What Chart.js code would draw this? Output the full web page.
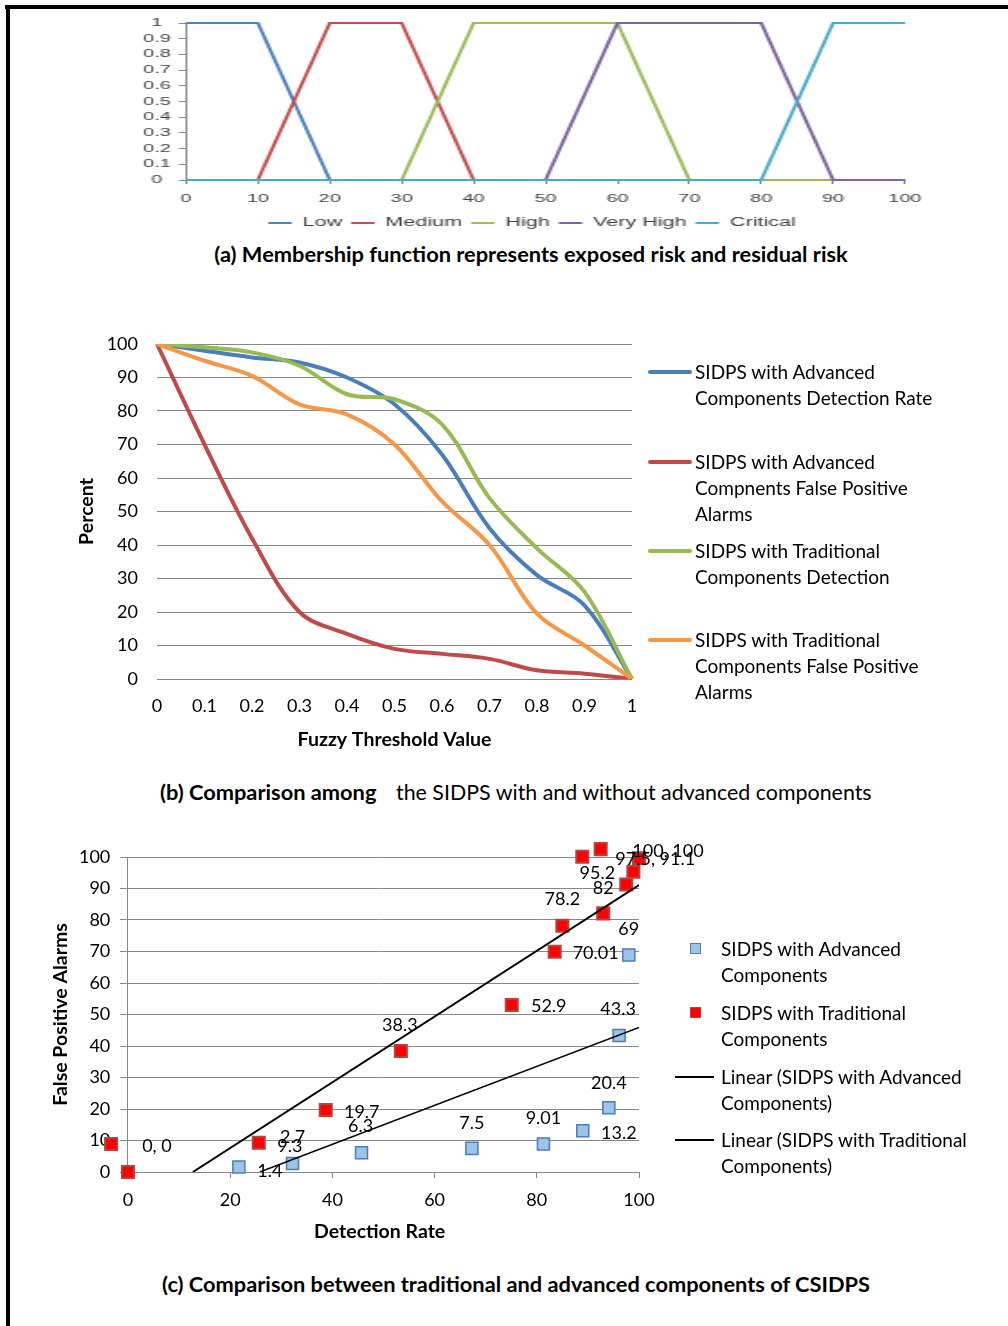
<!DOCTYPE html>
<html>
<head>
<meta charset="utf-8">
<script src="https://cdn.jsdelivr.net/npm/chart.js@4.4.0/dist/chart.umd.min.js"></script>
<style>
  html, body { margin: 0; padding: 0; background: #fff; }
  #page { position: relative; width: 1008px; height: 1326px; overflow: hidden; font-family: Lato, "Open Sans", sans-serif; color: #000; }
  .frame { position: absolute; background: #000; }
  .caption { position: absolute; font-weight: bold; font-size: 21.8px; line-height: 26px; white-space: pre; }
  .caption.centered { width: 1008px; text-align: center; }
  .caption.normal { font-weight: normal; font-size: 21.4px; }
  .legend-item { position: absolute; left: 0; font-size: 19px; line-height: 26px; white-space: pre; }
  .legend-item .mark { position: absolute; }
  .legend-item .txt { position: absolute; top: 0; }
</style>
</head>
<body>
<div id="page">
  <div class="frame" style="left:5px;top:5px;width:1003px;height:4px"></div>
  <div class="frame" style="left:6px;top:5px;width:4px;height:1321px"></div>

  <canvas id="chartA" width="560" height="240" style="position:absolute;left:0;top:0;width:1008px;height:240px"></canvas>
  <div class="caption centered" style="top:241px;left:27px">(a) Membership function represents exposed risk and residual risk</div>

  <canvas id="chartB" width="1008" height="460" style="position:absolute;left:0;top:300px;width:1008px;height:460px"></canvas>
  <div id="legendB"></div>
  <div class="caption" style="top:779px;left:160px">(b) Comparison among</div>
  <div class="caption normal" style="top:779px;left:396px">the SIDPS with and without advanced components</div>

  <canvas id="chartC" width="1008" height="440" style="position:absolute;left:0;top:820px;width:1008px;height:440px"></canvas>
  <div id="legendC"></div>
  <div class="caption centered" style="top:1271px;left:12px">(c) Comparison between traditional and advanced components of CSIDPS</div>
</div>

<script>
// (a) membership functions
const riskLevels = ['0', '10', '20', '30', '40', '50', '60', '70', '80', '90', '100'];
const lowRisk      = [1, 1, 0, 0, 0, 0, 0, 0, 0, 0, 0];
const mediumRisk   = [0, 0, 1, 1, 0, 0, 0, 0, 0, 0, 0];
const highRisk     = [0, 0, 0, 0, 1, 1, 1, 0, 0, 0, 0];
const veryHighRisk = [0, 0, 0, 0, 0, 0, 1, 1, 1, 0, 0];
const criticalRisk = [0, 0, 0, 0, 0, 0, 0, 0, 0, 1, 1];
const riskNames = ['Low', 'Medium', 'High', 'Very High', 'Critical'];

// (b) detection / false positive vs fuzzy threshold
const thresholdLabels = ['0', '0.1', '0.2', '0.3', '0.4', '0.5', '0.6', '0.7', '0.8', '0.9', '1'];
const advDetection = [100, 98, 96, 94.5, 90, 82, 67, 45, 31, 22, 0];
const advFalsePos  = [100, 70, 42, 20, 13.5, 9, 7.5, 6, 2.6, 1.6, 0];
const tradDetection = [100, 99, 97.5, 93.5, 85, 83.5, 76, 54, 39, 26, 0];
const tradFalsePos  = [100, 95, 90.5, 82, 79, 70, 53, 40, 19.5, 10, 0];
const seriesNamesB = [
  ['SIDPS with Advanced', 'Components Detection Rate'],
  ['SIDPS with Advanced', 'Compnents False Positive', 'Alarms'],
  ['SIDPS with Traditional', 'Components Detection'],
  ['SIDPS with Traditional', 'Components False Positive', 'Alarms']
];

// (c) detection rate vs false positive alarms
const advX = [21.7, 32.2, 45.7, 67.3, 81.3, 89.0, 94.1, 96.1, 98.0];
const advY = [1.6, 2.7, 6.1, 7.5, 8.9, 13.1, 20.4, 43.3, 68.9];
const advLabels = ['1.4', '2.7', '6.3', '7.5', '9.01', '13.2', '20.4', '43.3', '69'];
const tradX = [-3.3, 0, 25.6, 38.7, 53.4, 75.1, 83.5, 85.0, 93.0, 88.9, 92.5, 97.5, 98.9, 100];
const tradY = [8.9, 0, 9.3, 19.7, 38.4, 53.0, 69.9, 78.2, 82.1, 100.1, 102.5, 91.3, 95.3, 99.6];
const tradLabels = [null, '0, 0', '9.3', '19.7', '38.3', '52.9', '70.01', '78.2', '82', null, null, '97.5, 91.1', '95.2', '100, 100'];
const trendAdvX = [25.8, 100];
const trendAdvY = [0, 45.9];
const trendTradX = [12.7, 100];
const trendTradY = [0, 91.1];
const detectionTicks = [0, 20, 40, 60, 80, 100];
const seriesNamesC = [
  ['SIDPS with Advanced', 'Components'],
  ['SIDPS with Traditional', 'Components'],
  ['Linear (SIDPS with Advanced', 'Components)'],
  ['Linear (SIDPS with Traditional', 'Components)']
];

// label offsets from each marker (px), same order as the label lists
const advLabelOffsets = [[31, 4], [0, -26], [-1, -27], [0, -25], [0, -26], [36, 2], [0, -25], [-1, -26], [0, -26]];
const tradLabelOffsets = [[0, 0], [29, -26], [31, 3], [36, 2], [-1, -26], [37, 1], [41, 1], [0, -26], [0, -25], [0, 0], [0, 0], [29, -25], [-36, 1], [29, -7]];

const gridGray = '#878787';

function pairs(xs, ys) {
  return xs.map((x, i) => ({ x: x, y: ys[i] }));
}

// ---------- chart (a) ----------
const colorsA = ['#4F81BD', '#C0504D', '#9BBB59', '#8064A2', '#4BACC6'];
const valuesA = [lowRisk, mediumRisk, highRisk, veryHighRisk, criticalRisk];
const fontA = { family: 'Liberation Sans', size: 11 };

const chartA = new Chart(document.getElementById('chartA'), {
  type: 'line',
  data: {
    labels: riskLevels,
    datasets: valuesA.map((vals, i) => ({
      label: riskNames[i],
      data: vals,
      borderColor: colorsA[i],
      backgroundColor: colorsA[i],
      borderWidth: 2,
      pointRadius: 0,
      tension: 0,
      clip: false,
      order: 5 - i
    }))
  },
  options: {
    responsive: false,
    animation: false,
    layout: { padding: { left: 31.2, right: 0, top: 23, bottom: 1 } },
    plugins: {
      tooltip: { enabled: false },
      legend: {
        position: 'bottom',
        labels: {
          boxWidth: 13,
          boxHeight: 2,
          padding: 5,
          color: '#404040',
          font: { family: 'Liberation Sans', size: 12 },
          sort: (a, b) => a.datasetIndex - b.datasetIndex,
          generateLabels: chart => Chart.defaults.plugins.legend.labels.generateLabels(chart)
            .map(item => Object.assign(item, { lineWidth: 0 }))
        }
      }
    },
    scales: {
      x: {
        grid: { drawOnChartArea: false, drawTicks: true, tickLength: 4, color: gridGray },
        border: { display: true, color: gridGray },
        ticks: { padding: 8, color: '#404040', font: fontA, maxRotation: 0, autoSkip: false },
        afterFit: s => { s.height = 32; }
      },
      y: {
        min: 0,
        max: 1,
        grid: { drawOnChartArea: false, drawTicks: true, tickLength: 4, color: gridGray },
        border: { display: true, color: gridGray },
        ticks: {
          stepSize: 0.1,
          autoSkip: false,
          crossAlign: 'center',
          padding: 4.5,
          color: '#404040',
          font: fontA,
          callback: v => String(Math.round(v * 10) / 10)
        },
        afterFit: s => { s.width = 72.1; }
      },
      // empty right-hand box, keeps the plot clear of the right margin
      yRight: {
        position: 'right',
        grid: { display: false, drawTicks: false },
        border: { display: false },
        ticks: { display: false },
        afterFit: s => { s.width = 57.2; }
      }
    }
  }
});
chartA.canvas.style.width = '1008px';
chartA.canvas.style.height = '240px';

// ---------- chart (b) ----------
const colorsB = ['#4A7EBB', '#BE4B48', '#98B954', '#F79646'];
const valuesB = [advDetection, advFalsePos, tradDetection, tradFalsePos];
const tickFont = { family: 'Lato', size: 18 };
const titleFont = { family: 'Lato', size: 19.5, weight: 'bold' };

const chartB = new Chart(document.getElementById('chartB'), {
  type: 'line',
  data: {
    labels: thresholdLabels,
    datasets: valuesB.map((vals, i) => ({
      label: seriesNamesB[i].join(' '),
      data: vals,
      borderColor: colorsB[i],
      backgroundColor: colorsB[i],
      borderWidth: 4,
      pointRadius: 0,
      tension: 0.35,
      order: 4 - i
    }))
  },
  options: {
    responsive: false,
    animation: false,
    layout: { padding: { left: 71, right: 376, top: 44, bottom: 5 } },
    plugins: { legend: { display: false }, tooltip: { enabled: false } },
    scales: {
      x: {
        grid: { display: false, drawTicks: false },
        border: { display: false },
        ticks: { padding: 16, color: '#000', font: tickFont, maxRotation: 0, autoSkip: false },
        title: { display: true, text: 'Fuzzy Threshold Value', color: '#000', font: titleFont },
        afterFit: s => { s.height = 76; }
      },
      y: {
        min: 0,
        max: 100,
        grid: { color: gridGray, drawTicks: false },
        border: { display: false },
        ticks: { stepSize: 10, padding: 19, color: '#000', font: tickFont },
        title: { display: true, text: 'Percent', color: '#000', font: titleFont },
        afterFit: s => { s.width = 86; }
      }
    }
  }
});

// ---------- chart (c) ----------
const pointLabels = {
  id: 'pointLabels',
  afterDatasetsDraw(chart) {
    const ctx = chart.ctx;
    ctx.save();
    ctx.font = '18px Lato';
    ctx.fillStyle = '#000';
    ctx.textAlign = 'center';
    ctx.textBaseline = 'middle';
    [[advLabels, advLabelOffsets], [tradLabels, tradLabelOffsets]].forEach(([texts, offs], di) => {
      chart.getDatasetMeta(di).data.forEach((pt, j) => {
        if (!texts[j]) return;
        ctx.fillText(texts[j], pt.x + offs[j][0], pt.y + offs[j][1]);
      });
    });
    ctx.restore();
  }
};

const chartC = new Chart(document.getElementById('chartC'), {
  type: 'scatter',
  data: {
    datasets: [
      {
        label: seriesNamesC[0].join(' '),
        data: pairs(advX, advY),
        pointStyle: 'rect',
        pointRadius: 8.5,
        backgroundColor: '#9DC3E6',
        borderColor: '#4A7EBB',
        borderWidth: 1.5,
        clip: false,
        order: 3
      },
      {
        label: seriesNamesC[1].join(' '),
        data: pairs(tradX, tradY),
        pointStyle: 'rect',
        pointRadius: 8.5,
        backgroundColor: '#FF0000',
        borderColor: '#B8403D',
        borderWidth: 2,
        clip: false,
        order: 2
      },
      {
        label: seriesNamesC[2].join(' '),
        data: pairs(trendAdvX, trendAdvY),
        showLine: true,
        pointRadius: 0,
        borderColor: '#000',
        backgroundColor: '#000',
        borderWidth: 1.5,
        order: 1
      },
      {
        label: seriesNamesC[3].join(' '),
        data: pairs(trendTradX, trendTradY),
        showLine: true,
        pointRadius: 0,
        borderColor: '#000',
        backgroundColor: '#000',
        borderWidth: 2,
        order: 0
      }
    ]
  },
  options: {
    responsive: false,
    animation: false,
    layout: { padding: { left: 45, right: 369, top: 37, bottom: 13 } },
    plugins: { legend: { display: false }, tooltip: { enabled: false } },
    scales: {
      x: {
        type: 'linear',
        min: -1.5,
        max: 100,
        afterBuildTicks: s => { s.ticks = detectionTicks.map(v => ({ value: v })); },
        grid: {
          drawOnChartArea: true,
          drawTicks: true,
          tickLength: 6,
          color: c => (c.tick && c.tick.value === 0 ? gridGray : 'rgba(0,0,0,0)'),
          tickColor: gridGray
        },
        border: { display: true, color: gridGray },
        ticks: { padding: 11, color: '#000', font: tickFont, maxRotation: 0 },
        title: { display: true, text: 'Detection Rate', color: '#000', font: titleFont },
        afterFit: s => { s.height = 75; }
      },
      y: {
        min: 0,
        max: 100,
        grid: { color: gridGray, drawTicks: false },
        border: { display: false },
        ticks: { stepSize: 10, padding: 10, color: '#000', font: tickFont },
        title: { display: true, text: 'False Positive Alarms', color: '#000', font: titleFont },
        afterFit: s => { s.width = 75.3; }
      }
    }
  },
  plugins: [pointLabels]
});

// ---------- html legends ----------
function buildLegend(chart, boxId, names, rowCenters, markFor, textLeft) {
  const box = document.getElementById(boxId);
  chart.data.datasets.forEach((ds, i) => {
    const item = document.createElement('div');
    item.className = 'legend-item';
    item.style.top = (rowCenters[i] - 13) + 'px';
    const mark = document.createElement('div');
    mark.className = 'mark';
    Object.assign(mark.style, markFor(ds));
    const txt = document.createElement('div');
    txt.className = 'txt';
    txt.style.left = textLeft + 'px';
    txt.textContent = names[i].join('\n');
    item.appendChild(mark);
    item.appendChild(txt);
    box.appendChild(item);
  });
}

buildLegend(chartB, 'legendB', seriesNamesB, [372, 462, 551, 640], ds => ({
  left: '648px', top: '11px', width: '44px', height: '4px', borderRadius: '2px', background: ds.borderColor
}), 695);

buildLegend(chartC, 'legendC', seriesNamesC, [949, 1013, 1077, 1140], ds => ds.showLine ? {
  left: '675px', top: (13 - ds.borderWidth / 2) + 'px', width: '39px', height: ds.borderWidth + 'px', background: ds.borderColor
} : {
  left: '690px', top: '7px', width: '9px', height: '9px', background: ds.backgroundColor,
  border: '1.5px solid ' + ds.borderColor
}, 721);
</script>
</body>
</html>
